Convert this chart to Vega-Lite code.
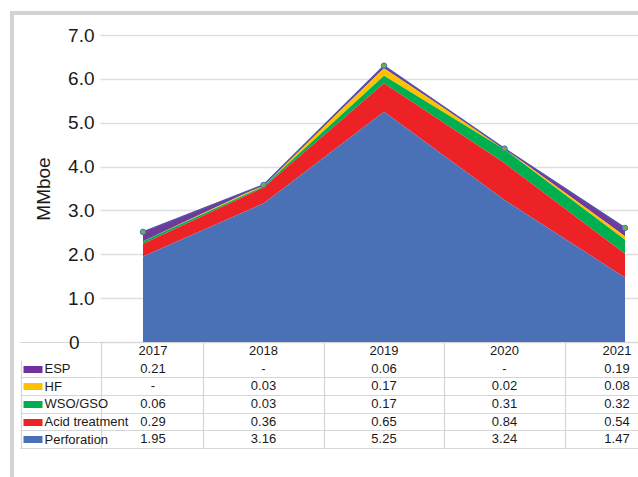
{
  "$schema": "https://vega.github.io/schema/vega-lite/v6.json",
  "autosize": {"type": "none"},
  "width": 640,
  "height": 470,
  "padding": {"left": 12, "top": 13, "right": 0, "bottom": 0},
  "background": "white",
  "config": {
    "font": "Liberation Sans, sans-serif",
    "view": {"stroke": "#d3d3d3", "strokeWidth": 4},
    "text": {"color": "#1a1a1a"}
  },
  "datasets": {
    "d": [
      {"year": 2017, "series": "ESP", "value": 0.21},
      {"year": 2017, "series": "HF", "value": 0},
      {"year": 2017, "series": "WSO/GSO", "value": 0.06},
      {"year": 2017, "series": "Acid treatment", "value": 0.29},
      {"year": 2017, "series": "Perforation", "value": 1.95},
      {"year": 2018, "series": "ESP", "value": 0},
      {"year": 2018, "series": "HF", "value": 0.03},
      {"year": 2018, "series": "WSO/GSO", "value": 0.03},
      {"year": 2018, "series": "Acid treatment", "value": 0.36},
      {"year": 2018, "series": "Perforation", "value": 3.16},
      {"year": 2019, "series": "ESP", "value": 0.06},
      {"year": 2019, "series": "HF", "value": 0.17},
      {"year": 2019, "series": "WSO/GSO", "value": 0.17},
      {"year": 2019, "series": "Acid treatment", "value": 0.65},
      {"year": 2019, "series": "Perforation", "value": 5.25},
      {"year": 2020, "series": "ESP", "value": 0},
      {"year": 2020, "series": "HF", "value": 0.02},
      {"year": 2020, "series": "WSO/GSO", "value": 0.31},
      {"year": 2020, "series": "Acid treatment", "value": 0.84},
      {"year": 2020, "series": "Perforation", "value": 3.24},
      {"year": 2021, "series": "ESP", "value": 0.19},
      {"year": 2021, "series": "HF", "value": 0.08},
      {"year": 2021, "series": "WSO/GSO", "value": 0.32},
      {"year": 2021, "series": "Acid treatment", "value": 0.54},
      {"year": 2021, "series": "Perforation", "value": 1.47}
    ]
  },
  "data": {"name": "d"},
  "resolve": {
    "scale": {"x": "independent", "y": "independent"},
    "axis": {"x": "independent", "y": "independent"}
  },
  "layer": [
    {
      "transform": [
        {"calculate": "indexof(['Perforation', 'Acid treatment', 'WSO/GSO', 'HF', 'ESP'], datum.series)", "as": "stackOrder"}
      ],
      "layer": [
        {
          "mark": {"type": "area", "opacity": 1},
          "encoding": {
            "x": {"field": "year", "type": "quantitative",
                  "scale": {"domain": [2016.6432, 2021.2241], "range": [88, 640], "nice": false, "zero": false},
                  "axis": null},
            "y": {"field": "value", "type": "quantitative", "stack": "zero",
                  "scale": {"domain": [0, 7], "range": [329, 22], "nice": false},
                  "axis": {
                    "orient": "left", "offset": -88, "values": [0, 1, 2, 3, 4, 5, 6, 7],
                    "labelExpr": "datum.value == 0 ? '0' : format(datum.value, '.1f')",
                    "ticks": false, "domain": false,
                    "labelPadding": {"expr": "datum.value == 0 ? 21 : 6"},
                    "labelFontSize": 19, "labelColor": "#1a1a1a",
                    "grid": true, "gridColor": "#dedede", "gridWidth": 1.5,
                    "title": "MMboe", "titleFontSize": 19, "titleFontWeight": "normal",
                    "titleColor": "#1a1a1a", "titlePadding": 14
                  }},
            "color": {"field": "series", "type": "nominal",
                      "scale": {"domain": ["Perforation", "Acid treatment", "WSO/GSO", "HF", "ESP"],
                                "range": ["#4a71b6", "#ec2227", "#00b050", "#ffc000", "#6f3a99"]},
                      "legend": null},
            "order": {"field": "stackOrder", "type": "quantitative", "sort": "ascending"}
          }
        },
        {
          "mark": {"type": "line", "color": "#5652a6", "strokeWidth": 1.6},
          "encoding": {
            "x": {"field": "year", "type": "quantitative"},
            "y": {"field": "value", "type": "quantitative", "aggregate": "sum"}
          }
        },
        {
          "mark": {"type": "point", "filled": true, "fill": "#70ad47", "stroke": "#4472c4", "strokeWidth": 1, "size": 30, "opacity": 1},
          "encoding": {
            "x": {"field": "year", "type": "quantitative"},
            "y": {"field": "value", "type": "quantitative", "aggregate": "sum"}
          }
        }
      ]
    },
    {
      "mark": {"type": "text", "fontSize": 13, "baseline": "middle",
               "dx": {"expr": "datum.year == 2017 ? 10 : datum.year == 2021 ? -8 : 0"},
               "text": {"expr": "datum.value == 0 ? '-' : format(datum.value, '.2f')"}},
      "encoding": {
        "x": {"field": "year", "type": "quantitative",
              "scale": {"domain": [2015.9793, 2021.2241], "range": [8, 640], "nice": false, "zero": false},
              "axis": {"orient": "bottom", "offset": -35,
                       "values": [2016.651, 2017.5, 2018.5, 2019.5, 2020.5],
                       "grid": false, "labels": false, "domain": false, "title": null,
                       "ticks": true, "tickSize": -106, "tickColor": "#d6d6d6", "tickWidth": 1.2}},
        "y": {"field": "series", "type": "nominal",
              "scale": {"domain": [" ", "ESP", "HF", "WSO/GSO", "Acid treatment", "Perforation"],
                        "range": [329, 435], "paddingInner": 0, "paddingOuter": 0},
              "axis": {"orient": "left", "grid": true, "tickBand": "extent",
                       "gridColor": {"condition": {"test": "datum.value === ' '", "value": "transparent"}, "value": "#d6d6d6"},
                       "gridWidth": 1.2,
                       "labels": false, "ticks": false, "domain": false, "title": null}}
      }
    },
    {
      "transform": [{"filter": "datum.series === 'ESP'"}],
      "mark": {"type": "text", "fontSize": 13, "baseline": "middle",
               "dx": {"expr": "datum.year == 2017 ? 10 : datum.year == 2021 ? -8 : 0"}},
      "encoding": {
        "x": {"field": "year", "type": "quantitative",
              "scale": {"domain": [2015.9793, 2021.2241], "range": [8, 640], "nice": false, "zero": false},
              "axis": {"orient": "bottom", "offset": -35, "values": [2015.99],
                       "grid": false, "labels": false, "domain": false, "title": null,
                       "ticks": true, "tickSize": -88, "tickColor": "#d6d6d6", "tickWidth": 1.2}},
        "y": {"datum": " ", "type": "nominal",
              "scale": {"domain": [" ", "ESP", "HF", "WSO/GSO", "Acid treatment", "Perforation"],
                        "range": [329, 435], "paddingInner": 0, "paddingOuter": 0},
              "axis": {"orient": "left", "offset": -30, "grid": false, "domain": false,
                       "ticks": true, "tickSize": 19, "tickWidth": 7,
                       "tickColor": {"expr": "datum.value === 'ESP' ? '#7030a0' : datum.value === 'HF' ? '#ffc000' : datum.value === 'WSO/GSO' ? '#00b050' : datum.value === 'Acid treatment' ? '#ec2227' : datum.value === 'Perforation' ? '#4a71b6' : 'transparent'"},
                       "labelAlign": "left", "labelPadding": -21, "labelFontSize": 13,
                       "labelColor": "#1a1a1a", "labelBaseline": "middle",
                       "labelExpr": "datum.value === ' ' ? '' : datum.value",
                       "title": null}},
        "text": {"field": "year", "type": "nominal"}
      }
    }
  ]
}
